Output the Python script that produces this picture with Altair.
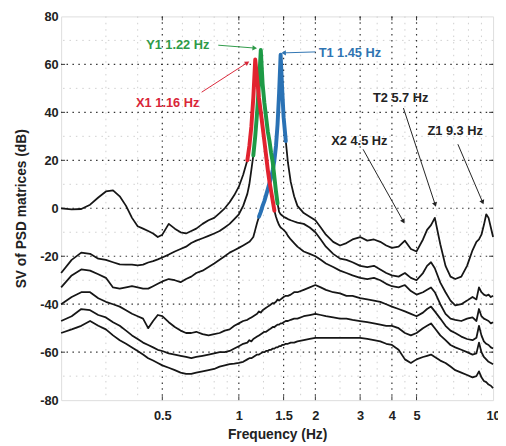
import math
import altair as alt
import pandas as pd

# ---------------- data ----------------
freq = [0.20, 0.22, 0.24, 0.26, 0.28, 0.30, 0.32, 0.34, 0.36, 0.38,
        0.40, 0.42, 0.44, 0.46, 0.48, 0.50, 0.53, 0.56, 0.59, 0.62,
        0.65, 0.68, 0.72, 0.76, 0.80, 0.84, 0.88, 0.92, 0.96, 1.00,
        1.04, 1.08, 1.10, 1.12, 1.14, 1.16, 1.18, 1.20, 1.22, 1.24,
        1.26, 1.28, 1.30, 1.32, 1.34, 1.36, 1.38, 1.40, 1.42, 1.44,
        1.46, 1.48, 1.50, 1.53, 1.56, 1.60, 1.65, 1.70, 1.80, 1.90,
        2.00, 2.10, 2.20, 2.35, 2.50, 2.65, 2.80, 3.00, 3.20, 3.40,
        3.60, 3.80, 4.00, 4.25, 4.50, 4.75, 5.00, 5.30, 5.50, 5.70,
        5.90, 6.20, 6.50, 6.80, 7.10, 7.50, 7.90, 8.30, 8.60, 8.80,
        9.00, 9.20, 9.40, 9.60, 9.80, 10.0]

sv_x1 = [0, -0.5, -0.3, 1.5, 4.5, 7, 7.5, 5, 1, -4,
         -7.5, -8.5, -9.5, -10.5, -12, -11, -6.5, -8.5, -10, -10.5,
         -9.5, -8.5, -6.5, -5, -4, -2, 0, 2.5, 5.5, 9,
         14, 20, 26, 34, 46, 62, 54, 46, 40, 34,
         28, 22, 16, 11, 7, 3, -1, -3.5, -5.5, -7,
         -8, -8.5, -9, -10, -11.5, -13, -14.5, -16, -18, -19,
         -20, -21.5, -23, -24.5, -26, -27, -28, -29, -29.5, -29,
         -30, -31.5, -32.5, -33, -32, -34.5, -36, -35, -34, -33,
         -35, -40, -44, -46, -46.5, -47, -46, -45.5, -47, -42,
         -45, -46, -46.5, -47, -48, -47.5]

sv_y1 = [-27, -21.5, -18.5, -19, -21, -21.5, -22.5, -23.4, -23.5, -23.5,
         -23.8, -23.5, -22.6, -22, -21.3, -20.5, -19.3, -18, -17, -16,
         -14.5, -13.5, -12.5, -11.5, -10.5, -9.5, -8, -6.5, -4.5, -2.5,
         1, 6, 10, 16, 22, 30, 40, 52, 66, 52,
         44, 38, 32, 28, 23, 19, 13, 7, 2, -1.5,
         -2.5, -3, -3.5, -4, -4.5, -5, -5.5, -6, -6.5, -8,
         -10, -13, -16, -19, -21, -21.5, -22.5, -24, -24.5, -24,
         -25.5, -27, -28, -28.5, -27, -29, -30, -27, -24, -22.5,
         -25, -31, -35, -38.5, -40.5, -40, -38.5, -37, -38, -33,
         -35, -36, -36.5, -36, -37, -36.5]

sv_t1 = [-33, -28, -25.5, -26, -27.5, -29, -33, -33.5, -33, -32.5,
         -33, -33.5, -33.5, -32.5, -31.5, -30.5, -29.5, -30, -30.8, -29.5,
         -28.5, -27, -26, -24.5, -23, -21.5, -20, -18.5, -17.5, -16.5,
         -15.5, -14.5, -14, -13, -12, -9, -6, -3.5, -1.5, 1,
         3, 5.5, 8, 10.5, 13, 16, 20, 26, 35, 48,
         64, 50, 38, 28, 19, 11, 5, 1, -2, -3.5,
         -5, -8, -11, -14, -15.5, -14.5, -13, -12, -13.5, -13,
         -14, -15.5, -16.5, -16, -13.5, -17, -18, -13, -9, -7,
         -4, -15, -24, -28.5, -29.5, -28.5, -24, -17.5, -14, -13,
         -11, -7, -2.5, -4, -8, -12]

sv_4 = [-40, -37, -35, -35, -37.5, -39, -40, -41, -42.5, -44,
        -45, -46, -50, -47, -44.5, -45, -47.5, -49.5, -51, -52,
        -52, -51.5, -52.5, -53, -52.5, -52, -51, -50.5, -49, -48,
        -47, -46.5, -46, -45.5, -45, -44.5, -44, -43, -43.5, -42.5,
        -42, -41.5, -41, -40.5, -40, -39.5, -39.5, -39, -38, -38.5,
        -38, -37.5, -37, -36.5, -36.5, -36, -35, -35, -34, -33,
        -32, -33, -34, -35, -35.5, -36.5, -36.5, -37.5, -38, -38.5,
        -39, -40, -41, -42, -43, -44, -45, -43.5, -42, -41,
        -43, -46, -49, -51, -52, -53.5, -54.5, -55, -54, -49,
        -53, -55.5, -56.5, -57, -58, -58.5]

sv_5 = [-47, -45, -42, -42.5, -44.5, -45.5, -47.5, -49, -51, -53,
        -54.5, -56, -57, -58, -59, -59.5, -60.5, -61, -61.5, -62,
        -62.5, -62, -61.5, -61, -60.5, -60, -60, -59.5, -58.5, -57.5,
        -56.5, -56, -55, -55.5, -54.5, -54, -53.5, -53, -52.5, -52,
        -51.5, -51.5, -51, -50.5, -50, -49.5, -49.5, -49, -48.5, -48.5,
        -48, -48, -47.5, -47, -47, -46.5, -46, -46, -45, -44.5,
        -44, -44.5, -45, -45.5, -46, -46, -46.5, -47, -47.5, -48,
        -48.5, -49, -49, -50, -52, -53, -52, -50, -49, -48,
        -50, -53, -55, -57, -58, -59, -60, -61, -60.5, -56,
        -60, -62, -63, -64, -64.5, -65]

sv_6 = [-52, -50.5, -49, -47, -49, -50.5, -53, -55, -56.5, -58,
        -59.5, -61, -62.5, -63.5, -64.5, -65.5, -66.5, -67.5, -68.5, -69,
        -69, -68.5, -68, -67.5, -67, -66, -65.5, -65, -64.8, -64.5,
        -64, -63, -62.5, -62.5, -62, -61.5, -61, -61, -60.5, -60,
        -60, -59.5, -59.5, -59, -59, -58.5, -58.5, -58, -58, -57.5,
        -57.5, -57, -57, -56.5, -56.5, -56, -56, -55.5, -55, -54.5,
        -54, -54, -54, -54, -54, -54, -54, -54, -54.5, -55,
        -55.5, -56.5, -57, -59, -63, -64.5, -63, -62, -61.5, -61,
        -62, -63.5, -64.5, -66, -67.5, -68.5, -69.5, -70.5, -70, -68,
        -70.5, -72, -72.5, -73.5, -74, -75]

curves = {"x1": sv_x1, "y1": sv_y1, "t1": sv_t1, "s4": sv_4, "s5": sv_5, "s6": sv_6}

# highlighted peaks: (curve, f from, f to, colour)
peaks = [("t1", 1.20, 1.53, "#2a72b5"),
         ("y1", 1.14, 1.42, "#1e9a46"),
         ("x1", 1.08, 1.38, "#e1232f")]

# annotations
ann_text = ["Y1 1.22 Hz", "X1 1.16 Hz", "T1 1.45 Hz", "T2 5.7 Hz", "X2 4.5 Hz", "Z1 9.3 Hz"]
ann_f = [0.575, 0.525, 2.06, 3.37, 2.31, 5.52]
ann_db = [68, 44, 64.8, 46, 28, 32]
ann_align = ["center", "center", "left", "left", "left", "left"]
ann_color = ["#2e9a48", "#d92638", "#2f74b2", "#222222", "#222222", "#222222"]
arr_f0 = [0.83, 0.714, 2.00, 4.44, 3.08, 7.27]
arr_d0 = [68, 48.4, 65.2, 41.8, 24.6, 26.7]
arr_f1 = [1.155, 1.08, 1.50, 5.92, 4.44, 9.1]
arr_d1 = [66.8, 60.7, 64.8, 1.5, -5.5, 2.5]

major_x = [0.5, 1, 1.5, 2, 3, 4, 5]
major_y = [-60, -40, -20, 0, 20, 40, 60]
minor_x = [0.3, 0.4, 0.6, 0.7, 0.8, 0.9, 1.25, 1.75, 2.5, 3.5, 4.5, 6, 7, 8, 9]
minor_y = [-70, -50, -30, -10, 10, 30, 50, 70]
x_labels = [0.5, 1, 1.5, 2, 3, 4, 5, 10]
y_labels = [-80, -60, -40, -20, 0, 20, 40, 60, 80]

# ---------------- build tables ----------------
W, H = 439, 390
FMIN, FMAX = 0.2, 10.0
YMIN, YMAX = -80, 80
FONT = "Liberation Sans"

for k, v in curves.items():
    assert len(v) == len(freq), (k, len(v), len(freq))

rows = []
for name, vals in curves.items():
    for f, v in zip(freq, vals):
        rows.append({"curve": name, "f": f, "db": v})
df = pd.DataFrame(rows)

prow = []
for name, lo, hi, col in peaks:
    for f, v in zip(freq, curves[name]):
        if lo <= f <= hi:
            prow.append({"curve": name, "f": f, "db": v, "col": col})
pdf = pd.DataFrame(prow)


def px(f):
    return W * (math.log10(f) - math.log10(FMIN)) / (math.log10(FMAX) - math.log10(FMIN))


def py(d):
    return H * (YMAX - d) / (YMAX - YMIN)


arrows = []
for i in range(len(ann_text)):
    dx = px(arr_f1[i]) - px(arr_f0[i])
    dy = py(arr_d1[i]) - py(arr_d0[i])
    ang = math.degrees(math.atan2(dx, -dy)) % 360
    arrows.append({"f0": arr_f0[i], "d0": arr_d0[i], "f1": arr_f1[i], "d1": arr_d1[i],
                   "ang": ang, "col": ann_color[i]})
adf = pd.DataFrame(arrows)
tdf = pd.DataFrame({"t": ann_text, "f": ann_f, "db": ann_db, "al": ann_align, "col": ann_color})

xs = alt.Scale(type="log", domain=[FMIN, FMAX], nice=False)
ys = alt.Scale(domain=[YMIN, YMAX], nice=False, zero=False)

x_axis = alt.Axis(values=x_labels, labelExpr="'' + datum.value", grid=False, ticks=False,
                  domain=False, labelFont=FONT, labelFontSize=13, labelFontWeight="bold",
                  labelColor="#222", labelPadding=10, labelFlush=False, labelOverlap=False,
                  title="Frequency (Hz)", titleFont=FONT, titleFontSize=14,
                  titleFontWeight="bold", titleColor="#222", titleY=35, titleX=W / 2,
                  titleBaseline="middle")
y_axis = alt.Axis(values=y_labels, labelExpr="'' + datum.value", grid=False, ticks=False,
                  domain=False, labelFont=FONT, labelFontSize=13, labelFontWeight="bold",
                  labelColor="#222", labelPadding=3, labelFlush=False, labelOverlap=False,
                  title="SV of PSD matrices (dB)", titleFont=FONT, titleFontSize=14,
                  titleFontWeight="bold", titleColor="#222", titleX=-40, titleY=H / 2,
                  titleBaseline="middle", titleAngle=270)


def X(field):
    return alt.X(field, scale=xs, axis=x_axis)


def Y(field):
    return alt.Y(field, scale=ys, axis=y_axis)


# grid
gx_major = alt.Chart(pd.DataFrame({"v": major_x})).mark_rule(
    color="#333", strokeWidth=1.2, strokeDash=[1.5, 4.5]).encode(x=X("v:Q"))
gy_major = alt.Chart(pd.DataFrame({"v": major_y})).mark_rule(
    color="#333", strokeWidth=1.2, strokeDash=[1.5, 4.5]).encode(y=Y("v:Q"))
gx_minor = alt.Chart(pd.DataFrame({"v": minor_x})).mark_rule(
    color="#cfcfcf", strokeWidth=1, strokeDash=[1.5, 5]).encode(x=X("v:Q"))
gy_minor = alt.Chart(pd.DataFrame({"v": minor_y})).mark_rule(
    color="#cfcfcf", strokeWidth=1, strokeDash=[1.5, 5]).encode(y=Y("v:Q"))

# inward ticks
tick_df_x = pd.DataFrame({"v": major_x})
tick_df_y = pd.DataFrame({"v": major_y})
tx_bot = alt.Chart(tick_df_x).mark_rule(color="#333").encode(
    x=X("v:Q"), y=alt.value(H - 4), y2=alt.value(H))
tx_top = alt.Chart(tick_df_x).mark_rule(color="#333").encode(
    x=X("v:Q"), y=alt.value(0), y2=alt.value(4))
ty_l = alt.Chart(tick_df_y).mark_rule(color="#333").encode(
    y=Y("v:Q"), x=alt.value(0), x2=alt.value(4))
ty_r = alt.Chart(tick_df_y).mark_rule(color="#333").encode(
    y=Y("v:Q"), x=alt.value(W - 4), x2=alt.value(W))

lines = alt.Chart(df).mark_line(color="#161616", strokeWidth=1.8, strokeJoin="round").encode(
    x=X("f:Q"), y=Y("db:Q"), detail="curve:N", order="f:Q")

peak_lines = alt.Chart(pdf).mark_line(strokeWidth=4, strokeJoin="round", strokeCap="round").encode(
    x=X("f:Q"), y=Y("db:Q"), color=alt.Color("col:N", scale=None),
    detail="curve:N", order="f:Q")

arrow_lines = alt.Chart(adf).mark_rule(strokeWidth=1).encode(
    x=X("f0:Q"), y=Y("d0:Q"), x2="f1:Q", y2="d1:Q", color=alt.Color("col:N", scale=None))
arrow_heads = alt.Chart(adf).mark_point(shape="triangle-up", filled=True, size=28, opacity=1).encode(
    x=X("f1:Q"), y=Y("d1:Q"),
    angle=alt.Angle("ang:Q", scale=None), color=alt.Color("col:N", scale=None))

texts_c = alt.Chart(tdf[tdf["al"] == "center"]).mark_text(
    align="center", baseline="middle", font=FONT, fontSize=13, fontWeight="bold").encode(
    x=X("f:Q"), y=Y("db:Q"), text="t:N", color=alt.Color("col:N", scale=None))
texts_l = alt.Chart(tdf[tdf["al"] == "left"]).mark_text(
    align="left", baseline="middle", font=FONT, fontSize=13, fontWeight="bold").encode(
    x=X("f:Q"), y=Y("db:Q"), text="t:N", color=alt.Color("col:N", scale=None))

chart = alt.layer(
    gx_minor, gy_minor, gx_major, gy_major, tx_bot, tx_top, ty_l, ty_r,
    lines, peak_lines, arrow_lines, arrow_heads, texts_c, texts_l,
).properties(
    width=W, height=H,
    padding={"left": 54, "top": 5, "right": 5, "bottom": 40},
    autosize=alt.AutoSizeParams(type="none"),
).configure_view(stroke="#333", strokeWidth=1.2).configure(background="white")

chart.save("out.html", embed_options={"renderer": "svg", "actions": False})
